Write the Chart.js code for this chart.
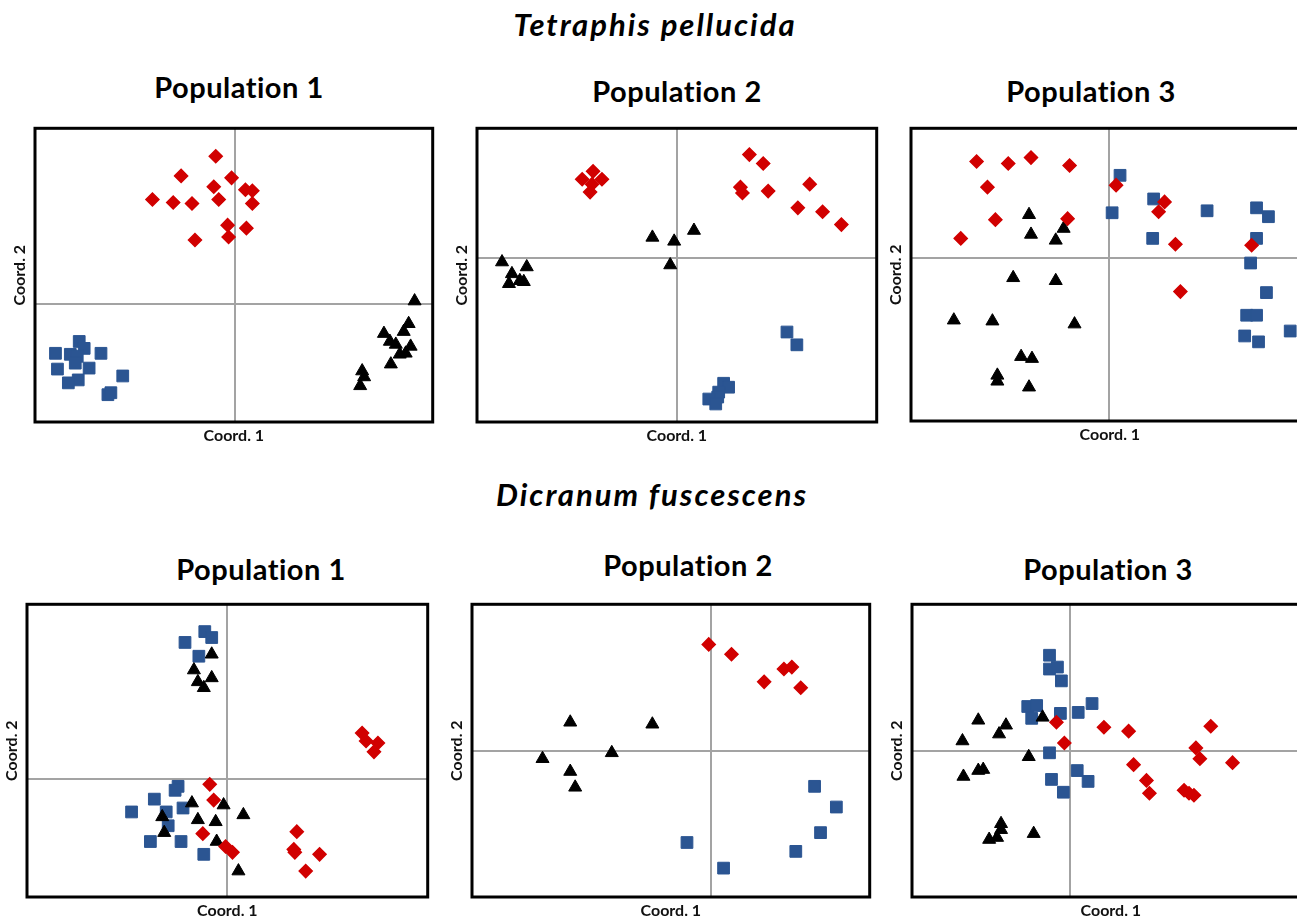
<!DOCTYPE html>
<html>
<head>
<meta charset="utf-8">
<script src="https://cdn.jsdelivr.net/npm/chart.js@4.4.1/dist/chart.umd.min.js"></script>
<style>
  html, body { margin:0; padding:0; background:#fff; width:1297px; height:921px; overflow:hidden; }
  body { position:relative; font-family: Lato, "Open Sans", sans-serif; }
  canvas { position:absolute; }
  .t { position:absolute; transform:translate(-50%,-50%); white-space:nowrap; color:#000; }
  .sp { font-style:italic; font-size:31px; font-weight:700; letter-spacing:2px; }
  .pop { font-weight:700; font-size:29px; letter-spacing:0.5px; }
</style>
</head>
<body>
<div class="t sp" style="left:655px;top:24px;">Tetraphis pellucida</div>
<div class="t sp" style="left:652px;top:494px;">Dicranum fuscescens</div>
<div class="t pop" style="left:239px;top:86px;">Population 1</div>
<div class="t pop" style="left:677px;top:90px;">Population 2</div>
<div class="t pop" style="left:1091px;top:90px;">Population 3</div>
<div class="t pop" style="left:261px;top:568px;">Population 1</div>
<div class="t pop" style="left:688px;top:564px;">Population 2</div>
<div class="t pop" style="left:1108px;top:568px;">Population 3</div>

<canvas id="c1"></canvas>
<canvas id="c2"></canvas>
<canvas id="c3"></canvas>
<canvas id="c4"></canvas>
<canvas id="c5"></canvas>
<canvas id="c6"></canvas>

<script>
// ---------- DATA ----------
const axisTitleX = "Coord. 1";
const axisTitleY = "Coord. 2";

// Tetraphis pellucida — Population 1
const tp1XRange = [-2.017, 2.003];
const tp1YRange = [-1.197, 1.783];
const tp1Red = [[-0.19,1.50],[-0.54,1.30],[-0.03,1.28],[-0.21,1.19],[0.11,1.16],[0.18,1.15],[-0.83,1.06],[-0.62,1.03],[-0.43,1.02],[-0.16,1.06],[0.18,1.02],[-0.07,0.80],[0.12,0.77],[-0.40,0.65],[-0.06,0.68]];
const tp1Blue = [[-1.57,-0.38],[-1.52,-0.45],[-1.81,-0.50],[-1.66,-0.51],[-1.59,-0.53],[-1.35,-0.50],[-1.61,-0.60],[-1.79,-0.66],[-1.47,-0.65],[-1.58,-0.77],[-1.68,-0.80],[-1.13,-0.73],[-1.28,-0.92],[-1.25,-0.90]];
const tp1Black = [[1.82,0.03],[1.76,-0.20],[1.71,-0.28],[1.51,-0.30],[1.57,-0.38],[1.63,-0.41],[1.78,-0.43],[1.73,-0.50],[1.67,-0.51],[1.58,-0.61],[1.29,-0.68],[1.31,-0.74],[1.27,-0.83]];

// Tetraphis pellucida — Population 2
const tp2XRange = [-2.023, 2.017];
const tp2YRange = [-1.663, 1.317];
const tp2Red = [[-0.85,0.88],[-0.96,0.80],[-0.76,0.80],[-0.86,0.75],[-0.88,0.67],[0.73,1.05],[0.87,0.96],[0.64,0.72],[0.66,0.66],[0.92,0.68],[1.34,0.75],[1.22,0.51],[1.47,0.47],[1.66,0.34]];
const tp2Black = [[0.17,0.28],[-0.25,0.21],[-0.03,0.17],[-0.07,-0.07],[-1.77,-0.04],[-1.52,-0.09],[-1.67,-0.16],[-1.59,-0.23],[-1.55,-0.24],[-1.70,-0.26]];
const tp2Blue = [[1.11,-0.75],[1.21,-0.88],[0.47,-1.27],[0.52,-1.31],[0.42,-1.36],[0.41,-1.41],[0.32,-1.43],[0.39,-1.48]];

// Tetraphis pellucida — Population 3
const tp3XRange = [-2.003, 2.017];
const tp3YRange = [-1.653, 1.317];
const tp3Red = [[-1.34,0.98],[-1.02,0.96],[-0.79,1.02],[-0.40,0.94],[-1.23,0.72],[-1.15,0.39],[-0.42,0.40],[-1.50,0.20],[0.07,0.74],[0.56,0.57],[0.50,0.47],[0.67,0.14],[1.44,0.13],[0.72,-0.34]];
const tp3Black = [[-0.81,0.44],[-0.79,0.24],[-0.46,0.30],[-0.54,0.18],[-0.97,-0.20],[-0.54,-0.23],[-1.57,-0.63],[-1.18,-0.64],[-0.35,-0.67],[-0.89,-1.00],[-0.78,-1.02],[-1.13,-1.19],[-1.13,-1.25],[-0.81,-1.31]];
const tp3Blue = [[0.11,0.84],[0.03,0.46],[0.45,0.60],[0.44,0.20],[0.99,0.48],[1.49,0.51],[1.61,0.42],[1.49,0.20],[1.43,-0.05],[1.59,-0.35],[1.39,-0.58],[1.49,-0.58],[1.37,-0.79],[1.51,-0.85],[1.83,-0.74]];

// Dicranum fuscescens — Population 1
const df1XRange = [-2.017, 2.033];
const df1YRange = [-1.193, 1.777];
const df1Red = [[1.37,0.47],[1.41,0.39],[1.53,0.37],[1.49,0.28],[-0.17,-0.05],[-0.13,-0.21],[-0.24,-0.55],[-0.01,-0.68],[0.06,-0.74],[0.71,-0.53],[0.68,-0.71],[0.69,-0.74],[0.94,-0.76],[0.80,-0.93]];
const df1Black = [[-0.15,1.27],[-0.33,1.11],[-0.15,1.03],[-0.29,0.99],[-0.23,0.93],[-0.35,-0.24],[-0.03,-0.26],[0.17,-0.36],[-0.65,-0.38],[-0.29,-0.41],[-0.11,-0.43],[-0.63,-0.54],[-0.10,-0.63],[0.12,-0.93]];
const df1Blue = [[-0.22,1.50],[-0.15,1.44],[-0.42,1.39],[-0.28,1.25],[-0.49,-0.07],[-0.52,-0.11],[-0.73,-0.20],[-0.96,-0.33],[-0.61,-0.33],[-0.44,-0.29],[-0.59,-0.47],[-0.77,-0.63],[-0.46,-0.63],[-0.23,-0.76]];

// Dicranum fuscescens — Population 2
const df2XRange = [-2.413, 1.607];
const df2YRange = [-1.483, 1.487];
const df2Red = [[-0.02,1.08],[0.21,0.98],[0.74,0.83],[0.82,0.85],[0.54,0.70],[0.91,0.64]];
const df2Black = [[-1.42,0.29],[-0.59,0.27],[-1.00,-0.02],[-1.70,-0.08],[-1.42,-0.21],[-1.37,-0.37]];
const df2Blue = [[1.05,-0.36],[1.27,-0.57],[1.11,-0.83],[0.86,-1.02],[-0.24,-0.93],[0.13,-1.19]];

// Dicranum fuscescens — Population 3
const df3XRange = [-1.60, 2.42];
const df3YRange = [-1.483, 1.487];
const df3Red = [[-0.14,0.29],[-0.06,0.08],[0.34,0.24],[0.59,0.20],[1.42,0.25],[1.27,0.03],[1.31,-0.08],[1.64,-0.12],[0.64,-0.14],[0.77,-0.30],[0.80,-0.43],[1.15,-0.40],[1.20,-0.43],[1.25,-0.45]];
const df3Black = [[-0.93,0.31],[-0.65,0.26],[-0.28,0.34],[-0.72,0.17],[-1.09,0.10],[-0.42,-0.06],[-1.08,-0.26],[-0.93,-0.20],[-0.88,-0.19],[-0.70,-0.74],[-0.70,-0.80],[-0.82,-0.90],[-0.74,-0.88],[-0.37,-0.84]];
const df3Blue = [[-0.21,0.97],[-0.21,0.83],[-0.13,0.85],[-0.09,0.71],[-0.43,0.45],[-0.34,0.46],[-0.39,0.33],[-0.10,0.38],[0.08,0.39],[0.22,0.48],[-0.21,-0.02],[0.07,-0.20],[0.18,-0.31],[-0.19,-0.29],[-0.07,-0.42]];

// ---------- RENDER ----------
const RED = '#d10000', BLUE = '#2b5592', BLACK = '#000000';

const framePlugin = {
  id: 'frame',
  beforeDatasetsDraw(chart) {
    const a = chart.chartArea, ctx = chart.ctx;
    ctx.save();
    ctx.strokeStyle = '#000';
    ctx.lineWidth = 3;
    ctx.strokeRect(a.left, a.top, a.right - a.left, a.bottom - a.top);
    ctx.restore();
  }
};

function toPts(arr) { return arr.map(p => ({ x: p[0], y: p[1] })); }

function panel(id, box, xr, yr, red, black, blue) {
  const padL = 25, padT = 5, padR = 5, padB = 24;
  const c = document.getElementById(id);
  c.width = box.w + padL + padR;
  c.height = box.h + padT + padB;
  c.style.left = (box.l - padL) + 'px';
  c.style.top = (box.t - padT) + 'px';
  const zeroTick = s => { s.ticks = [{ value: 0 }]; };
  const titleFont = { family: 'Lato, "Open Sans", sans-serif', size: 16, weight: 'bold', lineHeight: 1.2 };
  new Chart(c, {
    type: 'scatter',
    data: {
      datasets: [
        { data: toPts(red), pointStyle: 'rectRot', backgroundColor: RED, borderColor: RED, borderWidth: 1.5, pointRadius: 6.5, pointHoverRadius: 6.5 },
        { data: toPts(black), pointStyle: 'triangle', backgroundColor: BLACK, borderColor: BLACK, borderWidth: 1, pointRadius: 7.5, pointHoverRadius: 7.5 },
        { data: toPts(blue), pointStyle: 'rect', backgroundColor: BLUE, borderColor: BLUE, borderWidth: 1, pointRadius: 8.3, pointHoverRadius: 8.3 }
      ]
    },
    options: {
      responsive: false, animation: false, devicePixelRatio: 1,
      layout: { padding: { left: 0, top: padT, right: padR, bottom: 0 } },
      plugins: { legend: { display: false }, tooltip: { enabled: false } },
      scales: {
        x: {
          type: 'linear', min: xr[0], max: xr[1],
          afterBuildTicks: zeroTick,
          ticks: { display: false },
          border: { display: false },
          grid: { color: '#a3a3a3', lineWidth: 2, drawTicks: false },
          title: { display: true, text: axisTitleX, color: '#111', font: titleFont, padding: { top: 4, bottom: 0.8 } }
        },
        y: {
          type: 'linear', min: yr[0], max: yr[1],
          afterBuildTicks: zeroTick,
          ticks: { display: false },
          border: { display: false },
          grid: { color: '#a3a3a3', lineWidth: 2, drawTicks: false },
          title: { display: true, text: axisTitleY, color: '#111', font: titleFont, padding: { top: 0.4, bottom: 5.4 } }
        }
      }
    },
    plugins: [framePlugin]
  });
}

panel('c1', { l: 35, t: 124, w: 402, h: 298 }, tp1XRange, tp1YRange, tp1Red, tp1Black, tp1Blue);
panel('c2', { l: 477, t: 124, w: 404, h: 298 }, tp2XRange, tp2YRange, tp2Red, tp2Black, tp2Blue);
panel('c3', { l: 911, t: 124, w: 402, h: 297 }, tp3XRange, tp3YRange, tp3Red, tp3Black, tp3Blue);
panel('c4', { l: 27, t: 600, w: 405, h: 297 }, df1XRange, df1YRange, df1Red, df1Black, df1Blue);
panel('c5', { l: 472, t: 600, w: 402, h: 297 }, df2XRange, df2YRange, df2Red, df2Black, df2Blue);
panel('c6', { l: 912, t: 600, w: 402, h: 297 }, df3XRange, df3YRange, df3Red, df3Black, df3Blue);
</script>
</body>
</html>
